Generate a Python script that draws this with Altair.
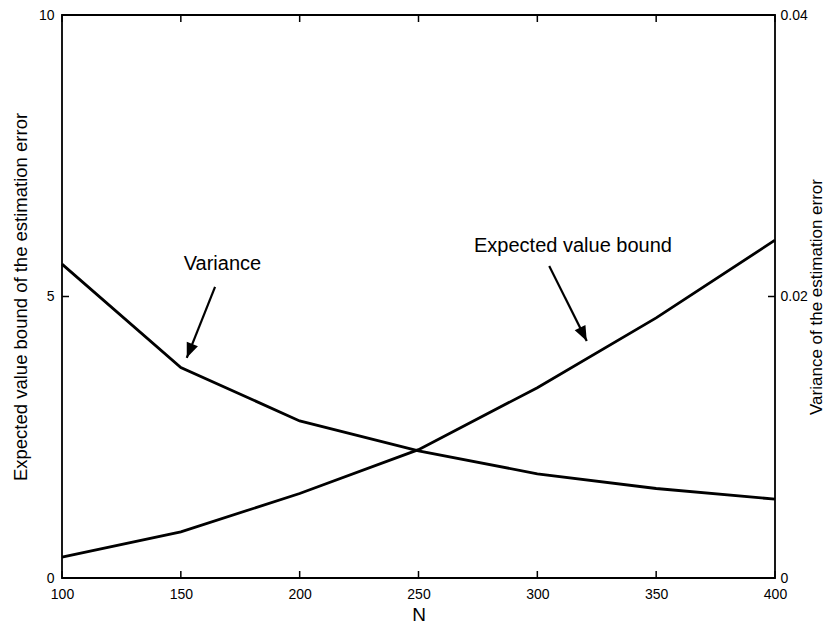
import altair as alt
import pandas as pd

# ---- data ----
N = [100, 150, 200, 250, 300, 350, 400]
expected_bound = [0.37, 0.82, 1.50, 2.28, 3.38, 4.62, 6.00]
variance = [0.0223, 0.01496, 0.01116, 0.00904, 0.0074, 0.00636, 0.0056]

x_ticks = [100, 150, 200, 250, 300, 350, 400]
left_ticks = [0, 5, 10]
right_ticks = [0, 0.02, 0.04]

# annotations (data units of N and the left axis)
ann_label = ["Variance", "Expected value bound"]
ann_label_x = [167.5, 315.0]
ann_label_y = [5.465, 5.79]
arrow_from_x = [164.4, 305.0]
arrow_from_y = [5.17, 5.54]
arrow_to_x = [152.5, 320.8]
arrow_to_y = [3.91, 4.21]
arrow_angle = [201.8, 153.5]

W, H, TICK = 713, 563, 7

df = pd.DataFrame({"N": N, "exp": expected_bound, "var": variance})
ann = pd.DataFrame({"label": ann_label, "x": ann_label_x, "y": ann_label_y})
arr = pd.DataFrame({"x": arrow_from_x, "y": arrow_from_y,
                    "x2": arrow_to_x, "y2": arrow_to_y, "angle": arrow_angle})
xt = pd.DataFrame({"v": x_ticks})
lt = pd.DataFrame({"v": left_ticks})
rt = pd.DataFrame({"v": right_ticks})

FONT = "Liberation Sans"
xs = alt.Scale(domain=[100, 400], nice=False, zero=False)
ls = alt.Scale(domain=[0, 10], nice=False, zero=False)
rs = alt.Scale(domain=[0, 0.04], nice=False, zero=False)

base = alt.Chart(df)

# main expected line with bottom labels + left labels
exp_line = base.mark_line(color="black", strokeWidth=2.8).encode(
    x=alt.X("N:Q", scale=xs, axis=alt.Axis(
        orient="bottom", values=x_ticks, ticks=False, tickSize=0, domain=False, grid=False,
        labelPadding=9, labelFlush=False, labelFontSize=14, labelColor="black",
        title="N", titleFontSize=19, titleFontWeight="normal", titleColor="black",
        titleX=356.5, titleY=42, titleBaseline="alphabetic", titleAlign="center")),
    y=alt.Y("exp:Q", scale=ls, axis=alt.Axis(
        orient="left", values=left_ticks, ticks=False, tickSize=0, domain=False, grid=False,
        labelPadding=8, labelFlush=False, labelFontSize=14, labelColor="black",
        title="Expected value bound of the estimation error", titleFontSize=18.5,
        titleFontWeight="normal", titleColor="black", titleAngle=270,
        titleX=-42, titleY=281.5, titleBaseline="middle", titleAlign="center")),
)

# variance line with right labels
var_line = base.mark_line(color="black", strokeWidth=2.8).encode(
    x=alt.X("N:Q", scale=xs, axis=None),
    y=alt.Y("var:Q", scale=rs, axis=alt.Axis(
        orient="right", values=right_ticks, format=".2~f", ticks=False, tickSize=0,
        domain=False, grid=False, labelPadding=5, labelFlush=False, labelFontSize=14,
        labelColor="black",
        title="Variance of the estimation error", titleFontSize=17,
        titleFontWeight="normal", titleColor="black", titleAngle=270,
        titleX=41, titleY=281.5, titleBaseline="middle", titleAlign="center")),
)

# inward tick marks on all four sides
tk = dict(color="black", strokeWidth=1.5)
tick_bottom = alt.Chart(xt).mark_rule(**tk).encode(
    x=alt.X("v:Q", scale=xs, axis=None), y=alt.value(H), y2=alt.value(H - TICK))
tick_top = alt.Chart(xt).mark_rule(**tk).encode(
    x=alt.X("v:Q", scale=xs, axis=None), y=alt.value(0), y2=alt.value(TICK))
tick_left = alt.Chart(lt).mark_rule(**tk).encode(
    y=alt.Y("v:Q", scale=ls, axis=None), x=alt.value(0), x2=alt.value(TICK))
tick_right = alt.Chart(rt).mark_rule(**tk).encode(
    y=alt.Y("v:Q", scale=rs, axis=None), x=alt.value(W), x2=alt.value(W - TICK))

labels = alt.Chart(ann).mark_text(font=FONT, fontSize=20, color="black",
                                  align="center", baseline="alphabetic").encode(
    x=alt.X("x:Q", scale=xs, axis=None),
    y=alt.Y("y:Q", scale=ls, axis=None),
    text="label:N",
)

shafts = alt.Chart(arr).mark_rule(color="black", strokeWidth=2.2).encode(
    x=alt.X("x:Q", scale=xs, axis=None),
    y=alt.Y("y:Q", scale=ls, axis=None),
    x2="x2:Q",
    y2="y2:Q",
)

heads = alt.Chart(arr).mark_point(
    shape="M0,0L0.8,2L-0.8,2Z", filled=True, color="black", opacity=1, size=225
).encode(
    x=alt.X("x2:Q", scale=xs, axis=None),
    y=alt.Y("y2:Q", scale=ls, axis=None),
    angle=alt.Angle("angle:Q", scale=None),
)

chart = alt.layer(
    exp_line, var_line, tick_bottom, tick_top, tick_left, tick_right,
    labels, shafts, heads
).resolve_scale(
    x="independent", y="independent"
).properties(
    width=W, height=H,
    autosize=alt.AutoSizeParams(type="none"),
    padding={"left": 54, "top": 7, "right": 51, "bottom": 46},
    background="white",
).configure(
    font=FONT
).configure_view(
    stroke="black", strokeWidth=1.8
).configure_axis(
    labelFont=FONT, titleFont=FONT
)

chart.save("out.html", embed_options={"renderer": "svg", "actions": False})
